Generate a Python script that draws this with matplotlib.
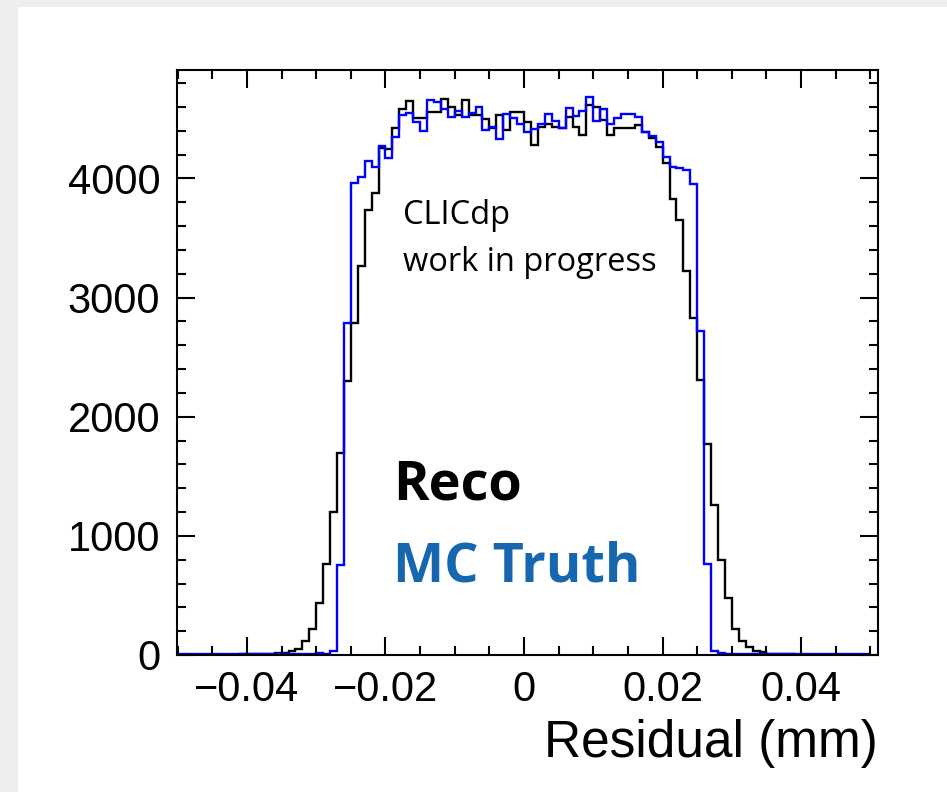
import numpy as np
import matplotlib
matplotlib.use("Agg")
import matplotlib.pyplot as plt
from matplotlib.patches import Rectangle

# histogram range: 100 bins from -0.05 to 0.05 mm
x_lo, x_hi, n_bins = -0.05, 0.05, 100

# Reco residuals (black)
reco_counts = [0, 1, 0, 2, 1, 2, 3, 2, 4, 5,
               6, 8, 10, 12, 15, 20,
               31, 50, 120, 218, 440, 761, 1203, 1694, 2298, 2785,
               3268, 3734, 3879, 4252, 4244, 4425, 4582, 4650, 4504, 4504,
               4560, 4560, 4670, 4600, 4530, 4662, 4530, 4530, 4500, 4420,
               4530, 4406, 4560, 4560,
               4470, 4280, 4434, 4454, 4434, 4420, 4518, 4434, 4364, 4616,
               4602, 4490, 4364, 4420, 4425, 4425, 4448, 4392, 4336, 4266,
               4126, 3824, 3655, 3224, 2828, 2311, 1770, 1255, 800, 480,
               222, 117, 66, 33, 22, 12, 8, 6, 5, 4,
               3, 3, 2, 2, 1, 1, 1, 0, 1, 0]

# MC truth residuals (blue)
truth_counts = [10, 9, 10, 11, 10, 9, 10, 12, 11, 10, 11,
                12, 10, 11, 12, 11, 12, 10, 12, 11, 13, 12,
                36, 753, 2785, 3963, 4008, 4143, 4098, 4272, 4168, 4350,
                4532, 4546, 4470, 4398, 4658, 4640, 4580, 4518, 4570, 4518,
                4546, 4600, 4403, 4434, 4330, 4540, 4505, 4458,
                4392, 4415, 4454, 4538, 4482, 4420, 4588, 4526, 4566, 4686,
                4482, 4582, 4454, 4510, 4538, 4538, 4518, 4392, 4358, 4308,
                4182, 4095, 4088, 4072, 3950, 2720, 766, 36, 14, 12,
                11, 10, 12, 10, 11, 9, 10, 11, 10, 9,
                10, 11, 10, 9, 10, 10, 9, 10, 11, 10]

x_ticks = [-0.04, -0.02, 0, 0.02, 0.04]
x_ticklabels = ["\u22120.04", "\u22120.02", "0", "0.02", "0.04"]
y_ticks = [0, 1000, 2000, 3000, 4000]

edges = np.linspace(x_lo, x_hi, n_bins + 1)

fig = plt.figure(figsize=(9.47, 7.92), dpi=100)
fig.patch.set_facecolor("#eeeeee")
# white panel on the grey page
fig.patches.append(Rectangle((18 / 947, 0), 1 - 18 / 947, 1 - 7 / 792,
                             transform=fig.transFigure, facecolor="white",
                             edgecolor="none", zorder=-10))

ax = fig.add_axes([177 / 947, 1 - 655 / 792, (878 - 177) / 947, (655 - 70) / 792])
ax.set_facecolor("white")

ax.stairs(reco_counts, edges, color="black", linewidth=1.7, baseline=None)
ax.stairs(truth_counts, edges, color="#0000ff", linewidth=1.7, baseline=None)

ax.set_xlim(-0.0501, 0.0511)
ax.set_ylim(0, 4910)

tick_font = dict(family=["Liberation Sans", "DejaVu Sans"], size=30)
ax.set_xticks(x_ticks)
ax.set_xticklabels(x_ticklabels, **tick_font)
ax.set_xticks(np.arange(-0.05, 0.0501, 0.005), minor=True)
ax.set_yticks(y_ticks)
ax.set_yticklabels([str(v) for v in y_ticks], **tick_font)
ax.set_yticks(np.arange(0, 4901, 200), minor=True)

ax.tick_params(which="both", direction="in", top=True, right=True, width=1.5)
ax.tick_params(which="major", length=13)
ax.tick_params(which="minor", length=6.5)
ax.tick_params(axis="x", which="major", pad=11)
ax.tick_params(axis="y", which="major", pad=12)
for s in ax.spines.values():
    s.set_linewidth(1.5)

ax.set_xlabel("Residual (mm)", loc="right", labelpad=6,
              family=["Liberation Sans", "DejaVu Sans"], size=37)

txt_font = ["Open Sans", "DejaVu Sans"]
ax.text(403 / 947, 1 - 215 / 792, "CLICdp", transform=fig.transFigure,
        family=txt_font, size=23.5, va="center", ha="left")
ax.text(403 / 947, 1 - 262 / 792, "work in progress", transform=fig.transFigure,
        family=txt_font, size=23.5, va="center", ha="left")
ax.text(393 / 947, 1 - 486 / 792, "Reco", transform=fig.transFigure,
        family=txt_font, size=39, weight="bold", color="black", va="center", ha="left")
ax.text(393 / 947, 1 - 567 / 792, "MC Truth", transform=fig.transFigure,
        family=txt_font, size=39, weight="bold", color="#1767b0", va="center", ha="left")

fig.savefig("out.png", dpi=100, facecolor=fig.get_facecolor())
